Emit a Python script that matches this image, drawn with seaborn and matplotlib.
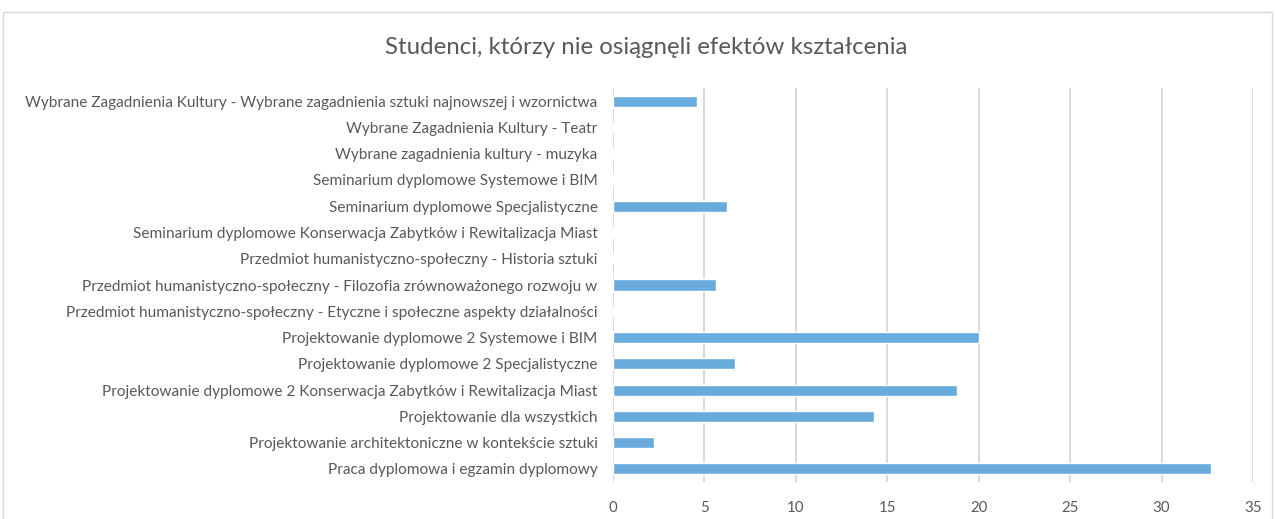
import matplotlib
matplotlib.use("Agg")
import matplotlib.pyplot as plt
import seaborn as sns
import pandas as pd
from matplotlib.patches import Rectangle

# courses, top to bottom as in the chart
courses = [
    "Wybrane Zagadnienia Kultury - Wybrane zagadnienia sztuki najnowszej i wzornictwa",
    "Wybrane Zagadnienia Kultury - Teatr",
    "Wybrane zagadnienia kultury - muzyka",
    "Seminarium dyplomowe Systemowe i BIM",
    "Seminarium dyplomowe Specjalistyczne",
    "Seminarium dyplomowe Konserwacja Zabytków i Rewitalizacja Miast",
    "Przedmiot humanistyczno-społeczny - Historia sztuki",
    "Przedmiot humanistyczno-społeczny - Filozofia zrównoważonego rozwoju w",
    "Przedmiot humanistyczno-społeczny - Etyczne i społeczne aspekty działalności",
    "Projektowanie dyplomowe 2 Systemowe i BIM",
    "Projektowanie dyplomowe 2 Specjalistyczne",
    "Projektowanie dyplomowe 2 Konserwacja Zabytków i Rewitalizacja Miast",
    "Projektowanie dla wszystkich",
    "Projektowanie architektoniczne w kontekście sztuki",
    "Praca dyplomowa i egzamin dyplomowy",
]
values = [4.6, 0, 0, 0, 6.25, 0, 0, 5.63, 0, 20.0, 6.65, 18.8, 14.3, 2.26, 32.7]
x_ticks = [0, 5, 10, 15, 20, 25, 30, 35]

title = "Studenci, którzy nie osiągnęli efektów kształcenia"

sns.set_theme(style="white")
plt.rcParams["font.family"] = ["Lato", "DejaVu Sans"]

df = pd.DataFrame({"course": courses, "value": values})

fig = plt.figure(figsize=(12.75, 5.19), dpi=100)
ax = fig.add_axes([613 / 1275, 37 / 519, 640 / 1275, 394 / 519])

sns.barplot(data=df, y="course", x="value", order=courses, orient="h",
            color="#6aabdd", width=0.42, saturation=1, ax=ax)

ax.set_xlim(0, 35)
ax.set_xticks(x_ticks)
ax.xaxis.grid(True, color="#d9d9d9", linewidth=1.4)
ax.set_axisbelow(True)
for s in ax.spines.values():
    s.set_visible(False)
ax.set_xlabel("")
ax.set_ylabel("")
ax.tick_params(axis="x", length=0, pad=14, labelsize=10.8, labelcolor="#595959")
ax.tick_params(axis="y", length=0, pad=11, labelsize=11.1, labelcolor="#595959")

fig.text(0.507, 0.909, title, ha="center", va="center", fontsize=17.3,
         color="#595959")

fig.patches.append(Rectangle((3 / 1275, -0.1), 1269 / 1275, 1.1 - 12 / 519,
                             transform=fig.transFigure, fill=False,
                             edgecolor="#d9d9d9", linewidth=1))

fig.savefig("out.png", dpi=100, facecolor="white")
